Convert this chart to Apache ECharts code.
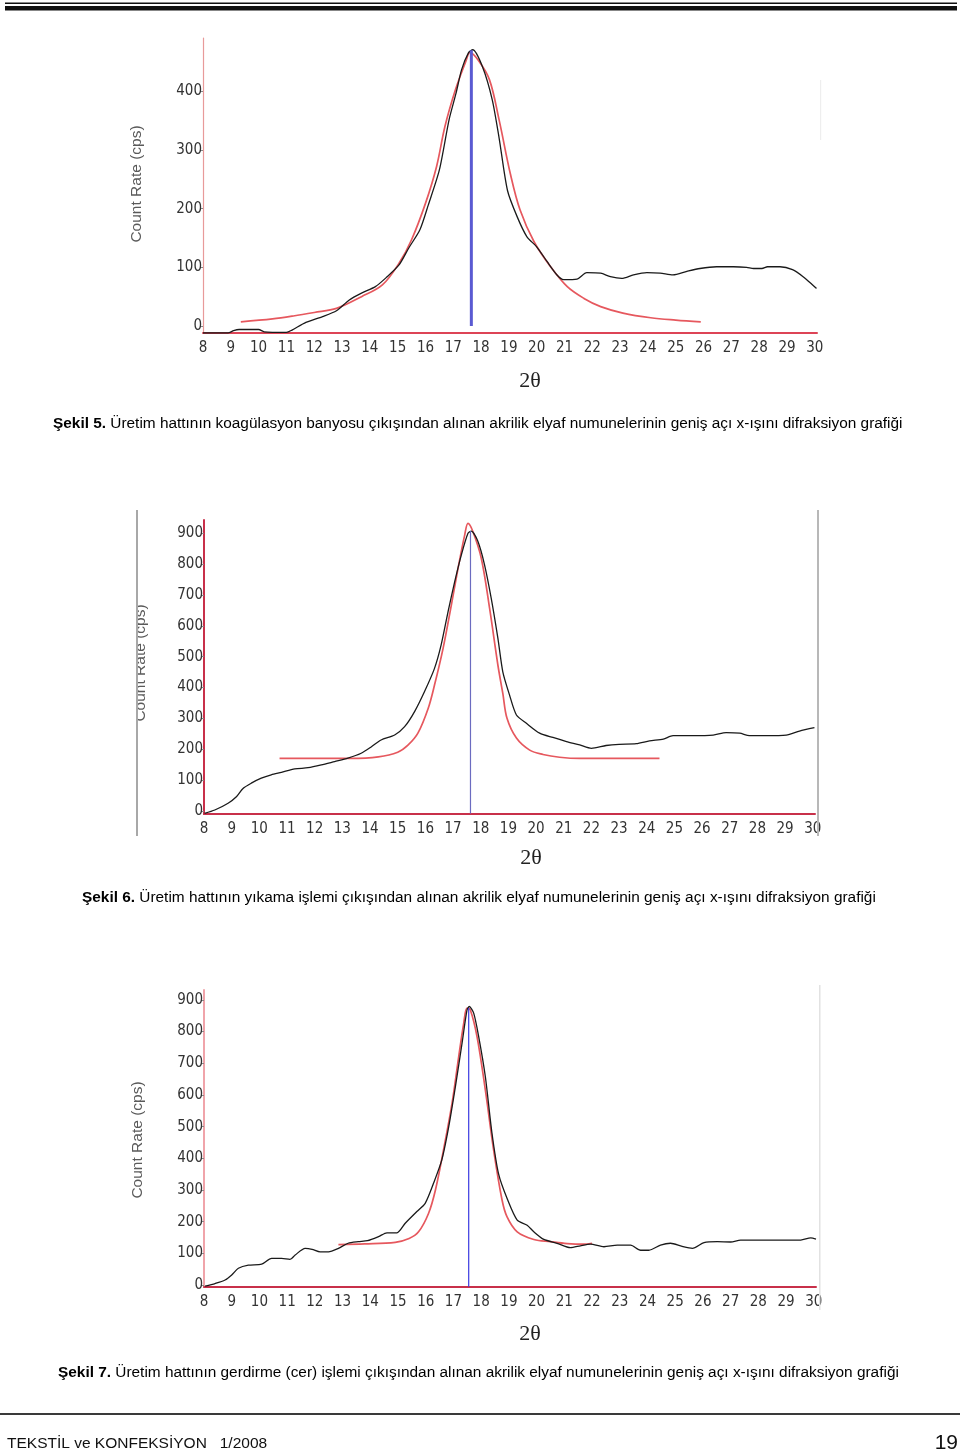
<!DOCTYPE html>
<html>
<head>
<meta charset="utf-8">
<script src="https://cdn.jsdelivr.net/npm/echarts@6/dist/echarts.min.js"></script>
<style>
html,body{margin:0;padding:0;background:#fff;}
#c{width:960px;height:1452px;}
</style>
</head>
<body>
<div id="c"></div>
<script>
// ---------- tick labels ----------
const xTicks = [8,9,10,11,12,13,14,15,16,17,18,19,20,21,22,23,24,25,26,27,28,29,30];
const yTicks1 = [0,100,200,300,400];
const yTicks2 = [0,100,200,300,400,500,600,700,800,900];
const yTicks3 = [0,100,200,300,400,500,600,700,800,900];

// ---------- Şekil 5 ----------
const fig5Measured = [[8.0,-12],[8.9,-12],[9.1,-8],[9.3,-6],[10.0,-6],[10.2,-10],[11.0,-11],[11.2,-7],[11.7,6],[12.3,16],[12.8,26],[13.25,44],[13.7,56],[14.2,67],[14.6,83],[15.05,104],[15.4,133],[15.8,164],[16.1,206],[16.5,266],[16.85,352],[17.1,397],[17.3,437],[17.55,466],[17.7,471],[18.05,442],[18.4,386],[18.65,320],[18.95,231],[19.3,186],[19.65,152],[20.0,135],[20.37,110],[20.73,87],[20.97,79],[21.45,80],[21.8,91],[22.3,90],[22.65,84],[23.06,81],[23.48,87],[23.96,91],[24.44,90],[24.9,87],[25.4,93],[25.87,98],[26.47,101],[27.07,101],[27.55,100],[27.8,98],[28.1,98],[28.3,101],[28.75,101],[29.2,96],[29.58,84],[30.06,64]];
const fig5Fit = [[9.36,7],[10.5,12],[11.25,17],[12.0,23],[12.8,30],[13.7,50],[14.45,70],[15.05,107],[15.5,147],[16.0,209],[16.4,272],[16.7,340],[17.08,403],[17.45,451],[17.6,466],[17.9,453],[18.3,420],[18.65,351],[19.05,260],[19.4,198],[19.9,144],[20.5,101],[21.1,67],[21.7,47],[22.3,33],[23.1,22],[24.1,14],[25.0,10],[25.9,7]];
const fig5Peak = [[17.65,0],[17.65,470]];

// ---------- Şekil 6 ----------
const fig6Measured = [[8.02,-8],[8.39,3],[8.87,25],[9.17,46],[9.41,73],[9.71,90],[10.07,106],[10.43,117],[10.8,125],[11.28,136],[11.76,140],[12.24,149],[12.72,160],[13.2,171],[13.68,187],[14.05,208],[14.4,230],[14.89,246],[15.25,273],[15.61,322],[15.97,387],[16.33,462],[16.57,538],[16.82,646],[17.06,743],[17.3,830],[17.54,900],[17.66,907],[17.9,873],[18.14,797],[18.38,689],[18.62,560],[18.8,450],[19.04,376],[19.29,311],[19.65,284],[20.13,252],[20.61,238],[21.1,225],[21.58,214],[22.0,203],[22.53,212],[23.0,216],[23.62,218],[24.1,227],[24.6,233],[24.95,244],[25.67,244],[26.4,246],[26.87,254],[27.36,252],[27.71,244],[28.3,244],[29.04,246],[29.52,259],[30.06,270]];
const fig6Fit = [[10.73,170],[12.0,170],[13.3,170],[14.3,175],[15.0,190],[15.37,213],[15.73,252],[16.1,332],[16.33,408],[16.64,527],[16.94,668],[17.18,786],[17.42,894],[17.54,932],[17.72,905],[18.02,819],[18.32,657],[18.62,473],[18.8,380],[18.95,300],[19.29,236],[19.77,197],[20.25,183],[20.85,174],[21.58,170],[24.46,170]];
const fig6Peak = [[17.63,-8],[17.63,907]];

// ---------- Şekil 7 ----------
const fig7Measured = [[8.04,-3],[8.4,5],[8.76,16],[9.0,32],[9.24,53],[9.6,63],[10.08,66],[10.44,84],[10.8,84],[11.1,81],[11.29,95],[11.65,116],[11.9,113],[12.19,105],[12.49,105],[12.85,116],[13.2,132],[13.57,137],[13.9,140],[14.3,153],[14.6,165],[14.96,165],[15.26,195],[15.68,232],[15.98,258],[16.28,321],[16.58,395],[16.83,500],[17.07,626],[17.31,763],[17.49,868],[17.57,879],[17.73,858],[17.91,784],[18.15,658],[18.39,479],[18.63,350],[18.95,270],[19.3,205],[19.66,189],[19.9,168],[20.26,144],[20.74,132],[21.22,118],[21.58,124],[21.94,129],[22.43,121],[22.91,126],[23.39,126],[23.75,110],[24.05,110],[24.47,126],[24.83,132],[25.25,122],[25.62,116],[26.04,134],[26.52,137],[27.0,136],[27.36,142],[28.33,142],[29.53,142],[29.89,149],[30.08,145]];
const fig7Fit = [[12.85,128],[13.8,130],[14.9,135],[15.4,147],[15.74,168],[16.1,226],[16.35,300],[16.64,426],[16.95,574],[17.19,721],[17.37,826],[17.49,874],[17.61,868],[17.85,784],[18.15,616],[18.45,426],[18.75,270],[18.93,216],[19.3,168],[19.9,144],[20.5,137],[21.1,131],[21.7,129],[22.0,132]];
const fig7Peak = [[17.55,-5],[17.55,874]];

// ---------- texts ----------
const captions = [
  {bold:'Şekil 5.', rest:' Üretim hattının koagülasyon banyosu çıkışından alınan akrilik elyaf numunelerinin geniş açı x-ışını difraksiyon grafiği'},
  {bold:'Şekil 6.', rest:' Üretim hattının yıkama işlemi çıkışından alınan akrilik elyaf numunelerinin geniş açı x-ışını difraksiyon grafiği'},
  {bold:'Şekil 7.', rest:' Üretim hattının gerdirme (cer) işlemi çıkışından alınan akrilik elyaf numunelerinin geniş açı x-ışını difraksiyon grafiği'}
];
const yAxisTitle = 'Count Rate (cps)';
const xAxisTitle = '2θ';
const footerLeft = 'TEKSTİL ve KONFEKSİYON   1/2008';
const footerRight = '19';

// ---------- layout ----------
const NARROW = "'Liberation Sans Narrow','DejaVu Sans Condensed','Roboto Condensed',sans-serif";
const SANS = "'Liberation Sans',Arial,sans-serif";
const panels = [
  {grid:{left:203, top:38, width:614, height:295}, ymin:-12, ymax:491, yTicks:yTicks1,
   yAxisColor:'#e89a9a', yAxisWidth:1.2, xAxisColor:'#dd4456', blue:'#5a5ad2', blueW:3,
   measured:fig5Measured, fit:fig5Fit, peak:fig5Peak},
  {grid:{left:204, top:520, width:611, height:294}, ymin:-10, ymax:943, yTicks:yTicks2,
   yAxisColor:'#c8304a', yAxisWidth:2, xAxisColor:'#c8304a', blue:'#6b6bc0', blueW:1.2,
   measured:fig6Measured, fit:fig6Fit, peak:fig6Peak},
  {grid:{left:204, top:990, width:612, height:297}, ymin:-6, ymax:931, yTicks:yTicks3,
   yAxisColor:'#f0a4aa', yAxisWidth:2, xAxisColor:'#c8304a', blue:'#3a3ae0', blueW:1.2,
   measured:fig7Measured, fit:fig7Fit, peak:fig7Peak}
];

const grids = [], xAxes = [], yAxes = [], series = [];
panels.forEach((p, i) => {
  grids.push(Object.assign({containLabel:false}, p.grid));
  xAxes.push({
    gridIndex:i, type:'value', min:8, max:30.08,
    axisLine:{show:true, onZero:false, lineStyle:{color:p.xAxisColor, width:2}},
    axisTick:{show:false}, splitLine:{show:false},
    axisLabel:{customValues:xTicks, margin:8, color:'#333', fontSize:15, fontFamily:NARROW}
  });
  yAxes.push({
    gridIndex:i, type:'value', min:p.ymin, max:p.ymax,
    axisLine:{show:true, onZero:false, lineStyle:{color:p.yAxisColor, width:p.yAxisWidth}},
    axisTick:{show:true, length:3, customValues:p.yTicks, lineStyle:{color:'#888', width:1}},
    splitLine:{show:false},
    axisLabel:{customValues:p.yTicks, margin:1, color:'#333', fontSize:15, fontFamily:NARROW}
  });
  series.push({type:'line', xAxisIndex:i, yAxisIndex:i, data:p.fit, symbol:'none', smooth:0.35,
    lineStyle:{color:'#e6585e', width:1.7}, z:2, silent:true});
  series.push({type:'line', xAxisIndex:i, yAxisIndex:i, data:p.measured, symbol:'none', smooth:0.25,
    lineStyle:{color:'#1a1a1a', width:1.3}, z:3, silent:true});
  series.push({type:'line', xAxisIndex:i, yAxisIndex:i, data:p.peak, symbol:'none',
    lineStyle:{color:p.blue, width:p.blueW}, z:4, silent:true});
});

const graphic = [];
// header rules
graphic.push({type:'rect', shape:{x:5, y:2.5, width:952, height:1.5}, style:{fill:'#111'}});
graphic.push({type:'rect', shape:{x:5, y:6, width:952, height:4.5}, style:{fill:'#111'}});
// frame lines from the scanned images
graphic.push({type:'rect', shape:{x:136, y:510, width:2, height:326}, style:{fill:'#a8a8a8'}, z:5});
graphic.push({type:'rect', shape:{x:817, y:510, width:2, height:326}, style:{fill:'#b8b8b8'}, z:5});
graphic.push({type:'rect', shape:{x:819, y:985, width:1.5, height:325}, style:{fill:'#e2e2e2'}, z:5});
graphic.push({type:'rect', shape:{x:820, y:80, width:1.2, height:60}, style:{fill:'#eeeeee'}, z:5});
// y axis titles
const yTitlePos = [[137,184],[141,663],[138,1140]];
yTitlePos.forEach(([x,y]) => {
  graphic.push({type:'text', x:x, y:y, rotation:Math.PI/2, z:4,
    style:{text:yAxisTitle, fontSize:15.5, fontFamily:SANS, fill:'#5a5a5a', align:'center', verticalAlign:'middle'}});
});
// mask for the cropped title of figure 6
graphic.push({type:'rect', shape:{x:118, y:590, width:18, height:150}, style:{fill:'#fff'}, z:4.5});
// x axis titles
const xTitlePos = [[530,381],[531,858],[530,1334]];
xTitlePos.forEach(([x,y]) => {
  graphic.push({type:'text', x:x, y:y,
    style:{text:xAxisTitle, fontSize:22, fontFamily:"'Liberation Serif','Times New Roman',serif", fill:'#222', align:'center', verticalAlign:'middle'}});
});
// captions
const capPos = [[53,424],[82,898],[58,1373]];
captions.forEach((c, i) => {
  graphic.push({type:'text', x:capPos[i][0], y:capPos[i][1],
    style:{text:'{b|' + c.bold + '}{r|' + c.rest + '}', verticalAlign:'middle', fill:'#000',
      rich:{b:{fontWeight:'bold', fontSize:15.4, fontFamily:SANS, fill:'#000'},
            r:{fontSize:15.4, fontFamily:SANS, fill:'#000'}}}});
});
// footer
graphic.push({type:'rect', shape:{x:0, y:1413, width:960, height:2}, style:{fill:'#3a3a3a'}});
graphic.push({type:'text', x:7, y:1444, style:{text:footerLeft, fontSize:15.5, fontFamily:SANS, fill:'#111', verticalAlign:'middle'}});
graphic.push({type:'text', x:958, y:1443, style:{text:footerRight, fontSize:21, fontFamily:SANS, fill:'#111', align:'right', verticalAlign:'middle'}});

const chart = echarts.init(document.getElementById('c'), null, {renderer:'canvas'});
chart.setOption({
  animation:false,
  backgroundColor:'#ffffff',
  grid:grids, xAxis:xAxes, yAxis:yAxes, series:series, graphic:graphic
});
</script>
</body>
</html>
